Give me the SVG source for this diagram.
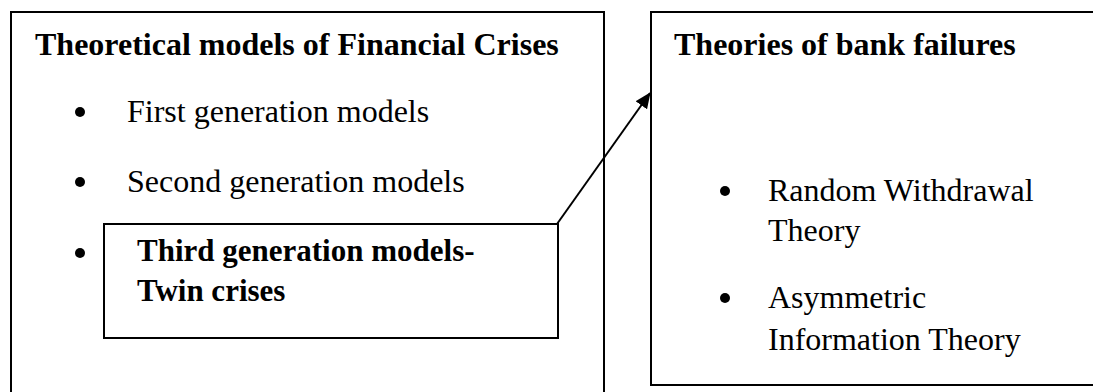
<svg xmlns="http://www.w3.org/2000/svg" width="1093" height="392" viewBox="0 0 1093 392">
<style>
.box{fill:none;stroke:#000;stroke-width:2}
.t{font-family:"Liberation Serif","Times New Roman",serif;font-size:32px;fill:#000}
.b{font-weight:bold}
.s{font-size:31px}
.dot{fill:#000}
</style>
<defs>
<marker id="ah" markerWidth="16" markerHeight="14" refX="15" refY="7" orient="auto" markerUnits="userSpaceOnUse" viewBox="0 0 16 14">
<path d="M0,0 L16,7 L0,14 z" fill="#000"/>
</marker>
</defs>
<rect width="1093" height="392" fill="#fff"/>
<g id="node-financial-crises">
<rect class="box" x="11" y="12" width="593" height="390"/>
<text class="t b" x="35" y="55">Theoretical models of Financial Crises</text>
<circle class="dot" cx="80" cy="112" r="5"/>
<text class="t" x="127" y="122">First generation models</text>
<circle class="dot" cx="80" cy="182" r="5"/>
<text class="t" x="127" y="192">Second generation models</text>
<circle class="dot" cx="80" cy="253" r="5"/>
</g>
<g id="node-third-generation">
<rect class="box" x="104" y="224" width="454" height="114"/>
<text class="t b s" x="137" y="261">Third generation models-</text>
<text class="t b s" x="137" y="301">Twin crises</text>
</g>
<g id="node-bank-failures">
<rect class="box" x="651" y="12" width="450" height="373"/>
<text class="t b" x="674" y="55">Theories of bank failures</text>
<circle class="dot" cx="725" cy="191" r="5"/>
<text class="t" x="768" y="201">Random Withdrawal</text>
<text class="t" x="768" y="241">Theory</text>
<circle class="dot" cx="725" cy="298" r="5"/>
<text class="t" x="768" y="308">Asymmetric</text>
<text class="t" x="768" y="350">Information Theory</text>
</g>
<g id="connectors">
<line x1="557" y1="224" x2="650" y2="93" stroke="#000" stroke-width="2" marker-end="url(#ah)"/>
</g>
</svg>
